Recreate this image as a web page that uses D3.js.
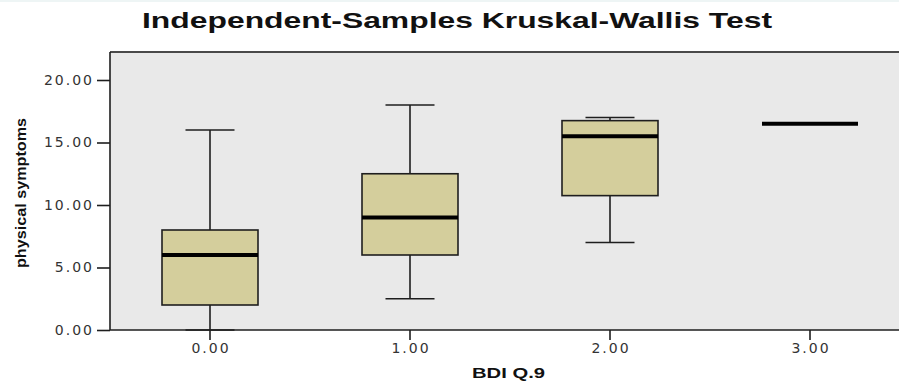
<!DOCTYPE html>
<html>
<head>
<meta charset="utf-8">
<script src="https://cdn.jsdelivr.net/npm/d3@7"></script>
<style>
  body { margin: 0; background: #fff; }
  svg { display: block; }
</style>
</head>
<body>
<script>
// groups on the x axis (BDI Q.9)
const categories = ["0.00", "1.00", "2.00", "3.00"]
// box plot stats
const whiskerLow = [0, 2.5, 7, 16.5]
const q1 = [2, 6, 10.75, 16.5]
const median = [6, 9, 15.5, 16.5]
const q3 = [8, 12.5, 16.75, 16.5]
const whiskerHigh = [16, 18, 17, 16.5]
const yTicks = [0, 5, 10, 15, 20]

const width = 899
const height = 385

const rows = categories.map((c, i) => ({
  cat: c, lo: whiskerLow[i], q1: q1[i], med: median[i], q3: q3[i], hi: whiskerHigh[i]
}))

const svg = d3.select("body")
  .append("svg")
  .attr("width", width)
  .attr("height", height)

const x = d3.scaleBand()
  .domain(categories)
  .range([110, 910])
  .padding(0)

const y = d3.scaleLinear()
  .domain([0, 22.24])
  .range([330, 52])

// faint strip at the very top of the screenshot
svg.append("rect")
  .attr("width", width).attr("height", 2)
  .attr("fill", "#eef5f5")

// plot background
svg.append("rect")
  .attr("x", 110).attr("y", 52)
  .attr("width", 800).attr("height", 278)
  .attr("fill", "#e9e9e9")

svg.append("line")
  .attr("x1", 110).attr("x2", 910)
  .attr("y1", 52).attr("y2", 52)
  .attr("stroke", "#4a4a4a").attr("stroke-width", 2)

const boxW = x.bandwidth() * 0.48
const capW = x.bandwidth() * 0.245
const cx = d => x(d.cat) + x.bandwidth() / 2
const ink = "#1e1e1e"

const g = svg.append("g")
  .selectAll("g")
  .data(rows)
  .join("g")

// whisker stems
g.append("line")
  .attr("x1", cx).attr("x2", cx)
  .attr("y1", d => y(d.hi)).attr("y2", d => y(d.q3))
  .attr("stroke", ink).attr("stroke-width", 1.6)
g.append("line")
  .attr("x1", cx).attr("x2", cx)
  .attr("y1", d => y(d.q1)).attr("y2", d => y(d.lo))
  .attr("stroke", ink).attr("stroke-width", 1.6)

// caps (skipped for single-value groups)
g.filter(d => d.hi > d.lo).selectAll(".cap")
  .data(d => [d.hi, d.lo].map(v => ({ v, c: cx(d) })))
  .join("line")
  .attr("class", "cap")
  .attr("x1", d => d.c - capW / 2).attr("x2", d => d.c + capW / 2)
  .attr("y1", d => y(d.v)).attr("y2", d => y(d.v))
  .attr("stroke", ink).attr("stroke-width", 1.6)

// boxes
g.filter(d => d.q3 > d.q1).append("rect")
  .attr("x", d => cx(d) - boxW / 2)
  .attr("y", d => y(d.q3))
  .attr("width", boxW)
  .attr("height", d => y(d.q1) - y(d.q3))
  .attr("fill", "#d4ce9c")
  .attr("stroke", ink).attr("stroke-width", 1.6)

// medians
g.append("line")
  .attr("x1", d => cx(d) - boxW / 2).attr("x2", d => cx(d) + boxW / 2)
  .attr("y1", d => y(d.med)).attr("y2", d => y(d.med))
  .attr("stroke", "#000").attr("stroke-width", 4)

// axes
const yAxis = svg.append("g")
  .attr("transform", "translate(110,0)")
  .call(d3.axisLeft(y).tickValues(yTicks).tickFormat(d3.format(".2f")).tickSize(13).tickPadding(3))
const xAxis = svg.append("g")
  .attr("transform", "translate(0,330)")
  .call(d3.axisBottom(x).tickSize(10).tickPadding(3))

for (const a of [yAxis, xAxis]) {
  a.select(".domain").remove()
  a.selectAll("line").attr("stroke", ink).attr("stroke-width", 1.6)
  a.selectAll("text")
    .attr("fill", "#333")
    .style("font-family", "DejaVu Sans, sans-serif")
    .style("font-size", "14px")
    .style("letter-spacing", "2px")
}
xAxis.selectAll("text").attr("dx", "1px")

svg.append("line")
  .attr("x1", 110).attr("x2", 110).attr("y1", 52).attr("y2", 330)
  .attr("stroke", ink).attr("stroke-width", 1.6)
svg.append("line")
  .attr("x1", 110).attr("x2", 910).attr("y1", 330).attr("y2", 330)
  .attr("stroke", ink).attr("stroke-width", 1.6)

// titles
svg.append("text")
  .attr("x", 142).attr("y", 28)
  .attr("textLength", 630)
  .attr("lengthAdjust", "spacingAndGlyphs")
  .style("font-family", "Liberation Sans, Arial, sans-serif")
  .style("font-weight", "bold")
  .style("font-size", "22px")
  .attr("fill", "#111")
  .text("Independent-Samples Kruskal-Wallis Test")

svg.append("text")
  .attr("transform", "translate(26,193) rotate(-90)")
  .attr("text-anchor", "middle")
  .attr("textLength", 150)
  .attr("lengthAdjust", "spacingAndGlyphs")
  .style("font-family", "Liberation Sans, Arial, sans-serif")
  .style("font-weight", "bold")
  .style("font-size", "14px")
  .attr("fill", "#111")
  .text("physical symptoms")

svg.append("text")
  .attr("x", 472).attr("y", 378)
  .attr("textLength", 73)
  .attr("lengthAdjust", "spacingAndGlyphs")
  .style("font-family", "Liberation Sans, Arial, sans-serif")
  .style("font-weight", "bold")
  .style("font-size", "14px")
  .attr("fill", "#111")
  .text("BDI Q.9")
</script>
</body>
</html>
